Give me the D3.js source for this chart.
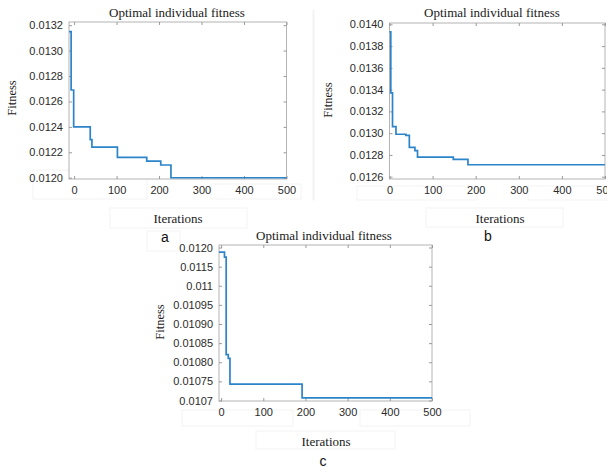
<!DOCTYPE html>
<html lang="en">
<head>
<meta charset="UTF-8">
<title>Optimal individual fitness</title>
<script src="https://d3js.org/d3.v7.min.js"></script>
<style>
  body { margin: 0; background: #fff; }
  svg text { font-family: "Liberation Sans", Arial, sans-serif; }
  .serif { font-family: "Liberation Serif", "Times New Roman", serif !important; fill: #1a1a1a; }
  .tick text { fill: #2b2b2b; font-size: 11px; }
</style>
</head>
<body>
<svg id="chart" width="607" height="468"></svg>
<script>
// panel a
var iterA = [-12, -7, -1, 38, 42, 102, 171, 204, 228, 500];
var fitA = [0.01315, 0.01269, 0.01240, 0.01230, 0.01224, 0.01216, 0.01213, 0.01210, 0.01200, 0.01200];
var yTicksA = [0.0120, 0.0122, 0.0124, 0.0126, 0.0128, 0.0130, 0.0132];

// panel b
var iterB = [0, 3, 7, 15, 38, 46, 59, 65, 148, 182, 500];
var fitB = [0.01393, 0.01337, 0.01306, 0.01299, 0.01298, 0.01287, 0.01284, 0.01278, 0.01276, 0.01271, 0.01271];
var yTicksB = [0.0126, 0.0128, 0.0130, 0.0132, 0.0134, 0.0136, 0.0138, 0.0140];

// panel c (tick labels are not evenly valued in the original, but evenly spaced)
var iterC = [-5, 8, 12, 17, 21, 192, 500];
var fitC = [0.01188, 0.01175, 0.01082, 0.01081, 0.010743, 0.010707, 0.010707];
var yTicksC = [0.0107, 0.01075, 0.0108, 0.01085, 0.0109, 0.01095, 0.011, 0.0115, 0.0120];
var yLabelsC = ["0.0107", "0.01075", "0.01080", "0.01085", "0.01090", "0.01095", "0.011", "0.0115", "0.0120"];

var xTicks = [0, 100, 200, 300, 400, 500];

var svg = d3.select("#chart");
var lineColor = "#2c84c9";
var boxColor = "#b4b4b4";

// faint leftover frames around labels in the source image
var frames = [
  [33, 170, 114, 29], [211, 184, 90, 15], [110, 208, 137, 20], [147, 231, 33, 20],
  [313, 10, 1, 190], [426, 208, 137, 19], [357, 186, 120, 14], [528, 186, 79, 14],
  [256, 431, 139, 18], [182, 410, 111, 16], [360, 410, 110, 16]
];
svg.selectAll("rect.frame").data(frames).enter().append("rect")
  .attr("class", "frame")
  .attr("x", d => d[0]).attr("y", d => d[1])
  .attr("width", d => d[2]).attr("height", d => d[3])
  .attr("fill", "none").attr("stroke", "#f3f3f3").attr("stroke-width", 1);

function panel(p) {
  var x = d3.scaleLinear().domain(p.xDomain).range([p.left, p.right]);
  var y;
  if (p.yLabels) {
    var step = (p.yFirst - p.yLast) / (p.yTicks.length - 1);
    y = d3.scaleLinear().domain(p.yTicks).range(p.yTicks.map((d, i) => p.yFirst - i * step));
  } else {
    y = d3.scaleLinear().domain(p.yDomain).range([p.bottom, p.top]);
  }

  var g = svg.append("g");

  // box
  g.append("rect")
    .attr("x", p.left).attr("y", p.top)
    .attr("width", p.right - p.left).attr("height", p.bottom - p.top)
    .attr("fill", "#fff").attr("stroke", boxColor).attr("stroke-width", 1);

  var fmt = p.yLabels ? (d, i) => p.yLabels[i] : d3.format(".4f");

  var ax = g.append("g").attr("transform", "translate(0," + p.bottom + ")")
    .call(d3.axisBottom(x).tickValues(xTicks).tickSizeInner(-3).tickSizeOuter(0).tickPadding(7));
  var ay = g.append("g").attr("transform", "translate(" + p.left + ",0)")
    .call(d3.axisLeft(y).tickValues(p.yTicks).tickFormat(fmt).tickSizeInner(-3).tickSizeOuter(0).tickPadding(6));
  var at = g.append("g").attr("transform", "translate(0," + p.top + ")")
    .call(d3.axisTop(x).tickValues(xTicks).tickFormat("").tickSizeInner(-3).tickSizeOuter(0));
  var ar = g.append("g").attr("transform", "translate(" + p.right + ",0)")
    .call(d3.axisRight(y).tickValues(p.yTicks).tickFormat("").tickSizeInner(-3).tickSizeOuter(0));
  [ax, ay, at, ar].forEach(a => {
    a.select(".domain").remove();
    a.selectAll(".tick line").attr("stroke", "#9a9a9a");
  });
  ax.selectAll(".tick text").attr("font-size", 11);
  ay.selectAll(".tick text").attr("font-size", 11);

  var pts = p.iter.map((d, i) => [d, p.fit[i]]);
  g.append("path")
    .datum(pts)
    .attr("d", d3.line().x(d => x(d[0])).y(d => y(d[1])).curve(d3.curveStepAfter))
    .attr("fill", "none")
    .attr("stroke", lineColor)
    .attr("stroke-width", 1.7);

  g.append("text").attr("class", "serif")
    .attr("x", p.titleX).attr("y", p.titleY)
    .attr("text-anchor", "middle").attr("font-size", 13)
    .text("Optimal individual fitness");

  g.append("text").attr("class", "serif")
    .attr("transform", "translate(" + p.fitX + "," + p.fitY + ") rotate(-90)")
    .attr("text-anchor", "middle").attr("dy", "0.35em").attr("font-size", 12.5)
    .text("Fitness");

  g.append("text").attr("class", "serif")
    .attr("x", p.iterX).attr("y", p.iterY)
    .attr("text-anchor", "middle").attr("dy", "0.35em").attr("font-size", 13)
    .text("Iterations");

  g.append("text")
    .attr("x", p.tagX).attr("y", p.tagY)
    .attr("text-anchor", "middle").attr("dy", "0.35em")
    .attr("font-size", 14).attr("fill", "#111")
    .text(p.tag);
}

panel({
  iter: iterA, fit: fitA, yTicks: yTicksA,
  xDomain: [-12, 500], yDomain: [0.01199, 0.013225],
  left: 69, right: 286.5, top: 22, bottom: 179,
  titleX: 177, titleY: 17, fitX: 12, fitY: 98, iterX: 178, iterY: 218,
  tag: "a", tagX: 165, tagY: 237
});

panel({
  iter: iterB, fit: fitB, yTicks: yTicksB,
  xDomain: [0, 500], yDomain: [0.012579, 0.014012],
  left: 389.5, right: 605, top: 23, bottom: 179,
  titleX: 492, titleY: 17, fitX: 328, fitY: 100, iterX: 500, iterY: 218,
  tag: "b", tagX: 488, tagY: 236
});

panel({
  iter: iterC, fit: fitC, yTicks: yTicksC, yLabels: yLabelsC,
  xDomain: [-5, 500], yFirst: 400.5, yLast: 247.5,
  left: 219, right: 432, top: 245, bottom: 401,
  titleX: 324, titleY: 240, fitX: 160, fitY: 322, iterX: 326, iterY: 441,
  tag: "c", tagX: 323, tagY: 461
});
</script>
</body>
</html>
